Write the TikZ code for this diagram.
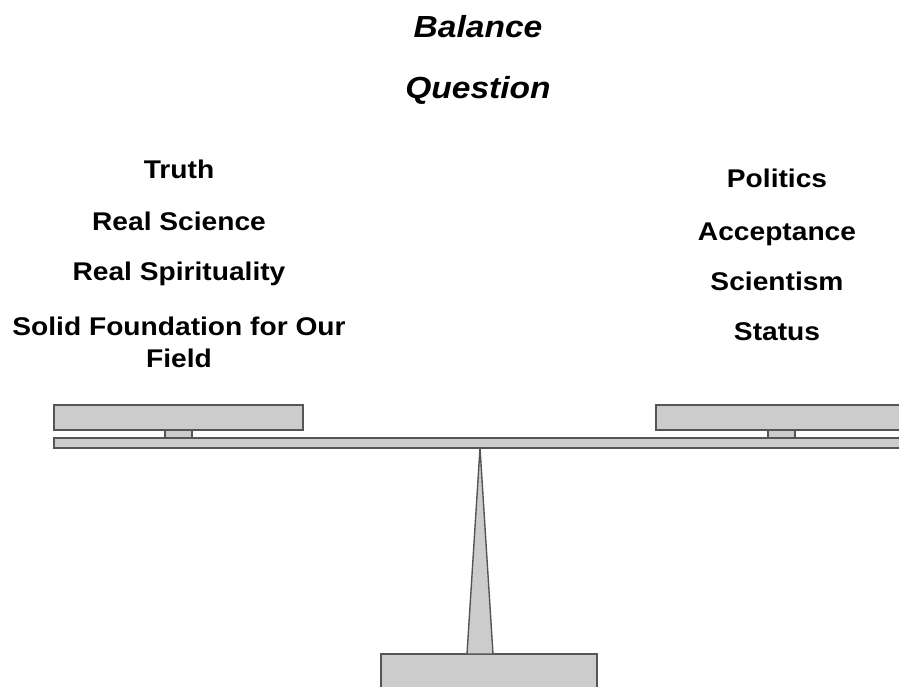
\documentclass[tikz,border=0pt]{standalone}
\usepackage{fontspec}
\setmainfont{Liberation Sans}[FakeStretch=1.1]
\definecolor{edge}{RGB}{85,85,85}
\definecolor{part}{RGB}{204,204,204}
\tikzset{
  label/.style={anchor=base,inner sep=0pt,font=\fontsize{25.6}{32}\selectfont\bfseries},
  title/.style={anchor=base,inner sep=0pt,font=\fontsize{30.5}{36}\selectfont\bfseries\itshape},
  piece/.style={draw=edge,fill=part,line width=1.4pt}
}
\begin{document}
\begin{tikzpicture}[x=1pt,y=-1pt]
\useasboundingbox (0,0) rectangle (899,686);
% titles
\node[title] (t1) at (478,37) {Balance};
\node[title] (t2) at (478,98) {Question};
% left labels
\node[label] (l1) at (179,178) {Truth};
\node[label] (l2) at (179,230) {Real Science};
\node[label] (l3) at (179,280) {Real Spirituality};
\node[label] (l4) at (179,335) {Solid Foundation for Our};
\node[label] (l5) at (179,367) {Field};
% right labels
\node[label] (r1) at (777,187) {Politics};
\node[label] (r2) at (777,240) {Acceptance};
\node[label] (r3) at (777,290) {Scientism};
\node[label] (r4) at (777,340) {Status};
% base and fulcrum
\draw[piece] (381,654) rectangle (597,700);
\draw[piece] (467,654) -- (480,448) -- (493,654) -- cycle;
% supports and pans
\draw[piece] (165,428) rectangle (192,438);
\draw[piece] (768,428) rectangle (795,438);
\draw[piece] (54,405) rectangle (303,430);
\draw[piece] (656,405) rectangle (910,430);
% beam
\draw[piece] (54,438) rectangle (910,448);
\end{tikzpicture}
\end{document}
